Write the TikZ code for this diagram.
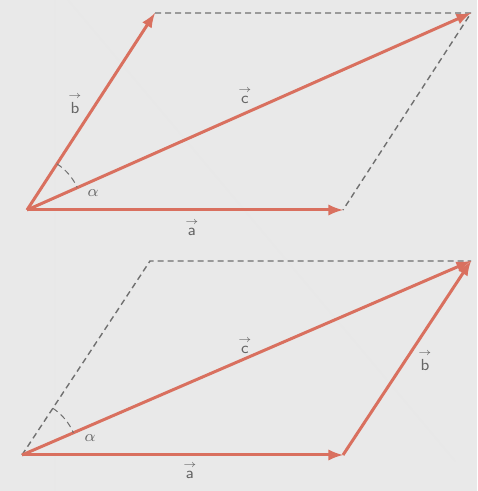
\documentclass[tikz,border=0pt]{standalone}
\usepackage{amsmath}
\usetikzlibrary{calc}
\definecolor{vecred}{HTML}{D9705F}
\definecolor{paper}{HTML}{E9E9E9}
\definecolor{dashgray}{HTML}{707070}
\newcommand{\veclab}[1]{$\overset{\scriptscriptstyle\rightarrow}{\mathsf{#1}}$}
\tikzset{
  vecline/.style={->, vecred, line width=1.5pt},
  helpline/.style={dashgray, densely dashed, line width=0.7pt},
  anglearc/.style={dashgray, densely dashed, line width=0.5pt},
  veclabel/.style={text=black!60, font=\footnotesize, inner sep=1pt}
}
\begin{document}
\begin{tikzpicture}[>=latex, x=0.5pt, y=0.5pt]
    % Nền
    \fill[paper] (0,0) rectangle (477,491);
    \useasboundingbox (0,0) rectangle (477,491);
    \draw[black!9, line width=0.6pt] (55,491) -- (55,0);
    \draw[black!9, line width=0.6pt] (68,491) -- (455,30);

    % Hình trên: c = a + b
    \coordinate (O1) at (27,281);
    \coordinate (A1) at (343,281);
    \coordinate (B1) at (155,478);
    \coordinate (C1) at (471,478);
    \draw[helpline] (B1) -- (C1) -- (A1);
    \draw[vecline] (O1) -- (A1);
    \draw[vecline] (O1) -- (B1);
    \draw[vecline] (O1) -- (C1);
    \draw[anglearc] (O1) ++(57:55) arc (57:24:55);
    \node[veclabel] (a1) at (192,264) {\veclab{a}};
    \node[veclabel] (b1) at (75,388) {\veclab{b}};
    \node[veclabel] (c1) at (245,396) {\veclab{c}};
    \node[veclabel] (al1) at (93,298) {$\alpha$};

    % Hình dưới: a nối tiếp b
    \coordinate (O2) at (22,36);
    \coordinate (A2) at (343,36);
    \coordinate (B2) at (150,230);
    \coordinate (C2) at (471,230);
    \draw[helpline] (O2) -- (B2) -- (C2);
    \draw[vecline] (O2) -- (A2);
    \draw[vecline] (A2) -- (C2);
    \draw[vecline] (O2) -- (C2);
    \draw[anglearc] (O2) ++(56.6:56) arc (56.6:23.4:56);
    \node[veclabel] (a2) at (190,21) {\veclab{a}};
    \node[veclabel] (b2) at (425,131) {\veclab{b}};
    \node[veclabel] (c2) at (245,146) {\veclab{c}};
    \node[veclabel] (al2) at (90,53) {$\alpha$};
\end{tikzpicture}
\end{document}
